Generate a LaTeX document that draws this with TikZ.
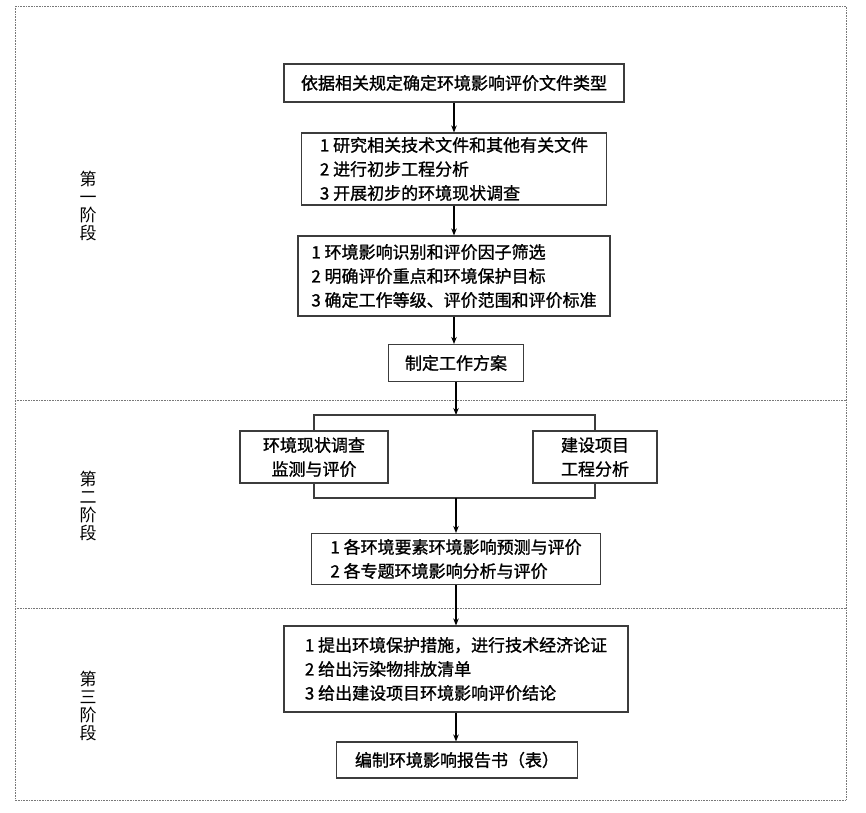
\documentclass[tikz,border=0pt]{standalone}
\usepackage{fontspec}
\usepackage{tikz}
\usetikzlibrary{arrows.meta,positioning}
\newfontfamily\cjk{Noto Sans CJK SC}
\newfontfamily\cjkb[FakeBold=1.2]{Noto Sans CJK SC}
\definecolor{frameG}{RGB}{120,120,120}
\definecolor{boxG}{RGB}{60,60,60}

\begin{document}
\begin{tikzpicture}[x=1pt,y=-1pt,>={Stealth[length=7pt,width=5.5pt]},
  box/.style={draw=boxG,line width=1.1pt,inner sep=0pt,align=left,
    font=\cjkb\fontsize{17}{24}\selectfont},
  flow/.style={->,line width=1.4pt,black},
  stage/.style={align=center,font=\cjk\fontsize{17}{18}\selectfont},
  frame/.style={frameG,densely dotted,line width=0.6pt}]
\useasboundingbox (0,0) rectangle (866,812);
% outer frame and stage dividers
\draw[frame] (15,6) rectangle (846,800);
\draw[frame] (15,400)--(846,400);
\draw[frame] (15,608)--(846,608);
\node[stage] (s1) at (88,206) {第\\一\\阶\\段};
\node[stage] (s2) at (88,506) {第\\二\\阶\\段};
\node[stage] (s3) at (88,706) {第\\三\\阶\\段};
% stage one
\node[box,minimum width=340,minimum height=38] (type) at (454,83) {依据相关规定确定环境影响评价文件类型};
\node[box,minimum width=305,minimum height=72] (study) at (454,169)
  {1 研究相关技术文件和其他有关文件\\2 进行初步工程分析\\3 开展初步的环境现状调查};
\node[box,minimum width=312,minimum height=80] (ident) at (454,276)
  {1 环境影响识别和评价因子筛选\\2 明确评价重点和环境保护目标\\3 确定工作等级、评价范围和评价标准};
\node[box,minimum width=135,minimum height=37] (plan) at (456,363) {制定工作方案};
% stage two
\node[box,align=center,minimum width=148,minimum height=52] (survey) at (314,457) {环境现状调查\\监测与评价};
\node[box,align=center,minimum width=124,minimum height=52] (proj) at (595,457) {建设项目\\工程分析};
\coordinate (splitT) at (456,415);
\coordinate (joinB) at (456,498);
\node[box,minimum width=289,minimum height=51] (pred) at (456,559)
  {1 各环境要素环境影响预测与评价\\2 各专题环境影响分析与评价};
% stage three
\node[box,minimum width=344,minimum height=86] (measure) at (456,669)
  {1 提出环境保护措施，进行技术经济论证\\2 给出污染物排放清单\\3 给出建设项目环境影响评价结论};
\node[box,minimum width=241,minimum height=36] (report) at (457,760) {编制环境影响报告书（表）};
% connectors
\draw[flow] (type.south) -- (type.south |- study.north);
\draw[flow] (study.south) -- (study.south |- ident.north);
\draw[flow] (ident.south) -- (ident.south |- plan.north);
\draw[flow] (plan.south) -- (splitT);
\draw[line width=1.1pt,boxG] (survey.north) |- (splitT) -| (proj.north);
\draw[line width=1.1pt,boxG] (survey.south) |- (joinB) -| (proj.south);
\draw[flow] (joinB) -- (pred.north);
\draw[flow] (pred.south) -- (measure.north);
\draw[flow] (measure.south) -- (measure.south |- report.north);
\end{tikzpicture}
\end{document}
